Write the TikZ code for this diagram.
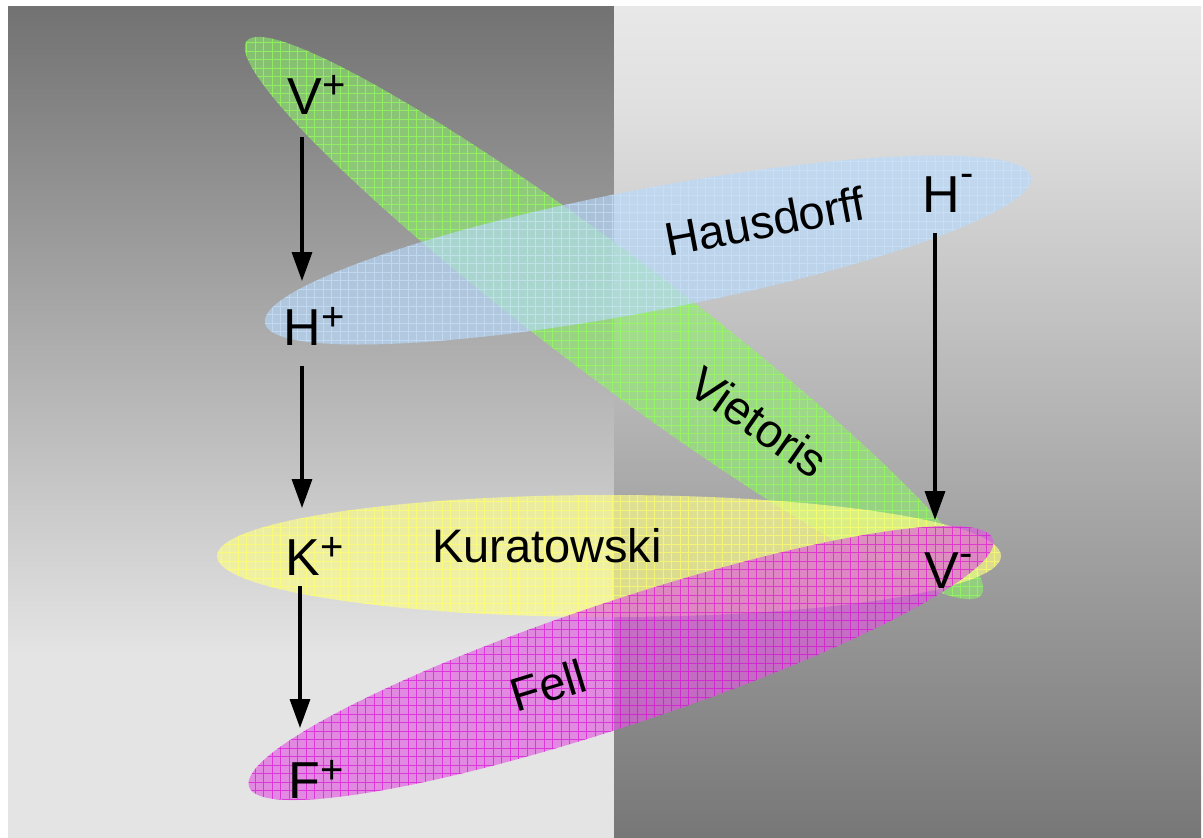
\documentclass[tikz,border=0pt]{standalone}
\usepackage{fontspec}
\setmainfont{Liberation Sans}
\usetikzlibrary{arrows.meta,calc}
\definecolor{bgdark}{RGB}{114,114,114}
\definecolor{bglight}{RGB}{228,228,228}
\definecolor{bgrtop}{RGB}{232,232,232}
\definecolor{bgrmid}{RGB}{224,224,224}
\definecolor{bgrbot}{RGB}{119,119,119}
\definecolor{gC}{RGB}{140,240,105}
\definecolor{gL}{RGB}{150,255,90}
\definecolor{bC}{RGB}{182,217,251}
\definecolor{bL}{RGB}{205,228,255}
\definecolor{yC}{RGB}{255,255,135}
\definecolor{yL}{RGB}{255,255,110}
\definecolor{mC}{RGB}{225,90,225}
\definecolor{mL}{RGB}{215,0,215}
\pgfdeclareverticalshading{leftsh}{100bp}{color(0bp)=(bglight); color(36bp)=(bglight); color(75bp)=(bgdark); color(100bp)=(bgdark)}
\pgfdeclareverticalshading{rightsh}{100bp}{color(0bp)=(bgrbot); color(25bp)=(bgrbot); color(69bp)=(bgrmid); color(75bp)=(bgrtop); color(100bp)=(bgrtop)}
\tikzset{
  g fill/.style={fill=gC, fill opacity=0.6},
  g grid/.style={draw=gL, line width=0.8pt, draw opacity=0.7},
  b fill/.style={fill=bC, fill opacity=0.65},
  b grid/.style={draw=bL, line width=0.8pt, draw opacity=0.6},
  y fill/.style={fill=yC, fill opacity=0.65},
  y grid/.style={draw=yL, line width=0.8pt, draw opacity=0.7},
  m fill/.style={fill=mC, fill opacity=0.65},
  m grid/.style={draw=mL, line width=0.8pt, draw opacity=0.6},
  lab/.style={inner sep=0pt, anchor=base, font=\fontsize{52}{52}\selectfont},
  suplab/.style={inner sep=0pt, anchor=base west, font=\fontsize{40}{40}\selectfont},
  nm/.style={inner sep=0pt, font=\fontsize{47}{47}\selectfont},
  arr/.style={line width=3.4pt, -{Triangle[width=20pt,length=29pt]}}
}
\newcommand\myblob[6]{%
  \begin{scope}
    \clip[rotate around={#3:(#1,#2)}] (#1,#2) ellipse [x radius=#4, y radius=#5];
    \fill[#6 fill] (0,0) rectangle (1203,838);
    \draw[#6 grid] (0,0) grid[step=8.5pt] (1203,838);
  \end{scope}}
\begin{document}
\begin{tikzpicture}[x=1pt,y=-1pt]
\useasboundingbox (0,0) rectangle (1203,838);
\fill[white] (0,0) rectangle (1203,838);
\shade[shading=leftsh] (8,6) rectangle (614,838);
\shade[shading=rightsh] (614,6) rectangle (1201,838);
% ellipses
\myblob{614}{318}{-37}{460}{61}{g}
\myblob{648}{250}{10.8}{390}{61}{b}
\myblob{609}{556}{0}{392}{61}{y}
\myblob{621}{663}{18.4}{392}{62}{m}
% labels
\node[lab] (Vp) at (304.5,114) {V};
\node[suplab, yshift=16pt] (Vps) at (Vp.base east) {+};
\node[lab] (Hp) at (302,345) {H};
\node[suplab, yshift=15pt] (Hps) at (Hp.base east) {+};
\node[lab] (Kp) at (303,575) {K};
\node[suplab, yshift=15pt] (Kps) at (Kp.base east) {+};
\node[lab] (Fp) at (304,798) {F};
\node[suplab, yshift=15pt] (Fps) at (Fp.base east) {+};
\node[lab] (Hm) at (941,212) {H};
\node[suplab, yshift=26pt] (Hms) at (Hm.base east) {-};
\node[lab] (Vm) at (941.5,588) {V};
\node[suplab, yshift=22pt] (Vms) at (Vm.base east) {-};
% names
\node[nm, rotate=10.7] (haus) at (765,221) {Hausdorff};
\node[nm, rotate=-35] (viet) at (759,422) {Vietoris};
\node[nm, anchor=base] (kura) at (547,562) {Kuratowski};
\node[nm, rotate=17] (fell) at (548,685) {Fell};
% arrows
\draw[arr] ($(Hp.north |- Vp.south)+(0,23)$) -- ($(Hp.north)+(0,-28)$);
\draw[arr] ($(Hp.south)+(0,21)$) -- ($(Hp.south |- Kp.north)+(0,-31)$);
\draw[arr] ($(Kp.south)+(-3,11)$) -- ($(Kp.south |- Fp.north)+(-3,-34)$);
\draw[arr] ($(Hm.south)+(-6,21)$) -- ($(Hm.south |- Vm.north)+(-6,-32)$);
\end{tikzpicture}
\end{document}
